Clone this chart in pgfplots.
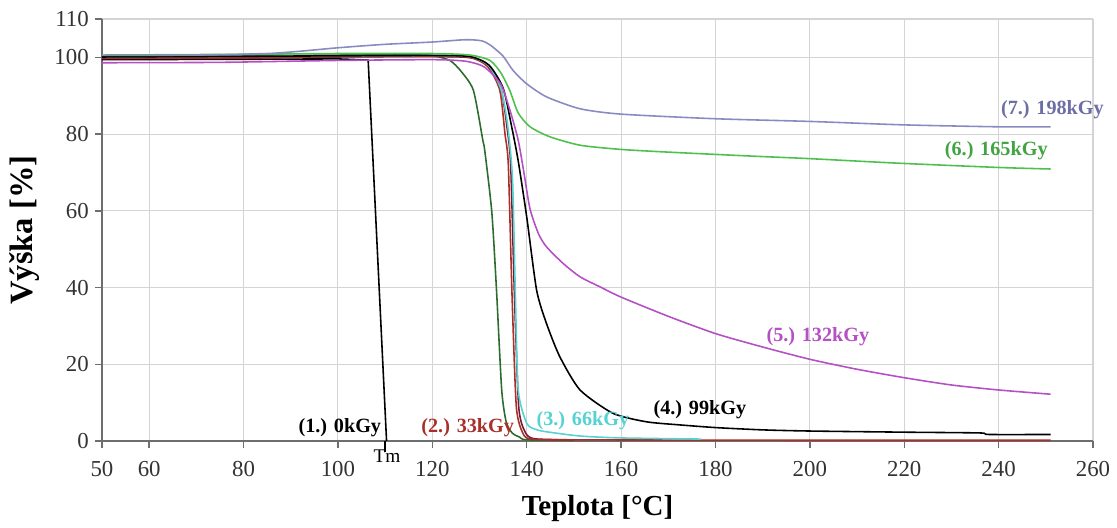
\documentclass[border=0pt]{standalone}
\usepackage{fontspec}
\setmainfont{Liberation Serif}
\usepackage{pgfplots}
\pgfplotsset{compat=1.18}
\usetikzlibrary{calc}
\definecolor{gridgray}{HTML}{D4D4D4}
\definecolor{axisgray}{HTML}{6E6E6E}
\definecolor{redc}{HTML}{A8302A}
\definecolor{cyanc}{HTML}{55D2D2}
\definecolor{magc}{HTML}{B450C4}
\definecolor{greenc}{HTML}{4EC04E}
\definecolor{lavc}{HTML}{8A8AC2}
\definecolor{lavtxt}{HTML}{6E6EA6}
\definecolor{dkgreen}{HTML}{2E6B2E}
\definecolor{maroon}{HTML}{7A1A30}
\begin{document}
\begin{tikzpicture}
\begin{axis}[name=ax, scale only axis, width=19.82cm, height=8.44cm,
  xmin=50, xmax=260, ymin=0, ymax=110, clip=true, clip mode=individual,
  axis lines*=left, axis line style={draw=axisgray, line width=1pt},
  xtick={50,60,80,100,120,140,160,180,200,220,240,260},
  ytick={0,20,40,60,80,100,110},
  grid=major, major grid style={draw=gridgray, line width=0.6pt},
  tick align=outside, major tick length=4pt,
  tick style={draw=axisgray, line width=0.8pt},
  tick label style={font=\fontsize{13}{15}\selectfont, text=black!80},
  xticklabel style={yshift=-4pt},
  /pgf/number format/assume math mode=true,
  extra x ticks={110}, extra x tick labels={},
  extra x tick style={grid=none, major tick length=6pt, tick style={draw=black}},
  xlabel={\textbf{Teplota [°C]}}, ylabel={\textbf{Výška [\%]}},
  x label style={font=\fontsize{16.5}{19}\selectfont, at={(axis description cs:0.5,-0.1754)}, anchor=base},
  y label style={font=\fontsize{18.5}{21}\selectfont, at={(axis description cs:-0.0777,0.5)}, anchor=center},
  every axis plot/.append style={line width=0.9pt, mark=none},
]
% (1.) 0 kGy
\addplot[black] coordinates {(50,99.4) (80,99.5) (100,99.6) (106.4,99.3) (110.3,0)};
% unlabeled dark green
\addplot[dkgreen, smooth, tension=0.4] coordinates {(50,100.3) (80,100.4) (100,100.6) (115,100.8) (120,100.5)
  (123.7,99.2) (126,96.5) (128.7,91.4) (130.7,78.4) (131.1,75.8) (132.6,59.7) (133.6,39.3)
  (134.7,13.3) (135.7,4.7) (137,2) (138.5,1) (140,0.3) (150,0.2)};
% unlabeled maroon
\addplot[maroon, smooth, tension=0.4] coordinates {(50,99.7) (80,99.8) (100,100.1) (120,100.2) (128,99.9)
  (132,97.8) (134.6,91.5) (135.8,82) (136.6,72) (137.4,38) (138.3,9) (139.6,2.5) (141.5,0.6) (150,0.3)};
% (2.) 33 kGy
\addplot[redc, smooth, tension=0.4] coordinates {(50,99.8) (80,99.9) (100,100.2) (120,100.3) (128,100)
  (131.8,97.5) (134.3,91.4) (135.4,80) (136.1,72) (136.9,37.6) (137.8,8.9) (139.2,2)
  (141,0.5) (150,0.3) (200,0.2) (251,0.2)};
% (3.) 66 kGy
\addplot[cyanc, smooth, tension=0.4] coordinates {(50,100.2) (100,100.4) (120,100.5) (128,100.2) (132,97.8)
  (134.6,91.5) (136,82) (137,68) (137.6,38) (138.2,13.3) (140,4.6) (142,3) (144.2,2.4)
  (151.3,1.3) (160,0.8) (177,0.5)};
% (4.) 99 kGy
\addplot[black, smooth, tension=0.4] coordinates {(50,100.1) (100,100.4) (120,100.5) (128,100.2) (132,98)
  (135,92) (136.8,82) (138.2,73) (140,58.4) (142.1,39.3) (144.2,30.6) (147,22)
  (151.3,13.3) (158.3,7.2) (165.4,5) (172.4,4.2) (180,3.5) (190,2.9) (200,2.6)
  (220,2.3) (236,2.1) (238,1.7) (251,1.7)};
% (5.) 132 kGy
\addplot[magc, smooth, tension=0.4] coordinates {(50,98.6) (75,98.7) (100,99.2) (120,99.4) (127,99) (131,97.5)
  (134.5,93) (136.5,86) (138.2,78.4) (139.4,70) (140.7,60.5) (142.5,54) (144.2,50.6)
  (147.7,46.3) (151.3,42.8) (155.5,40.2) (160,37.5) (170,32.5) (180,28) (190,24.5)
  (200,21.3) (210,18.7) (220,16.5) (230,14.6) (240,13.3) (251,12.2)};
% (6.) 165 kGy
\addplot[greenc, smooth, tension=0.4] coordinates {(50,100.6) (80,100.8) (100,101) (120,101) (128,100.6)
  (132.2,99.2) (134.5,96) (136.4,91.4) (138.2,85.5) (140.7,81.9) (144.9,79.3) (151.3,77.1)
  (160,76) (170,75.3) (187,74.3) (200,73.6) (219,72.4) (240,71.3) (251,70.9)};
% (7.) 198 kGy
\addplot[lavc, smooth, tension=0.4] coordinates {(50,100.5) (70,100.6) (85,101) (92,101.6) (100,102.5)
  (110,103.4) (120,104) (127,104.6) (130.5,104.3) (132.5,103) (135,100.3) (137.1,96.6)
  (140,93.1) (144.2,89.7) (151.3,86.6) (160,85.2) (180,84) (200,83.3) (220,82.4)
  (240,81.9) (251,81.9)};

\begin{scope}[every node/.style={font=\fontsize{11.5}{13}\selectfont\bfseries}]
\node[black] at (axis cs:100.4,3.4) {(1.) 0kGy};
\node[redc] at (axis cs:127.5,3.4) {(2.) 33kGy};
\node[cyanc] at (axis cs:151.9,5.2) {(3.) 66kGy};
\node[black] at (axis cs:176.7,8.1) {(4.) 99kGy};
\node[magc] at (axis cs:201.7,27.1) {(5.) 132kGy};
\node[greenc!85!black] at (axis cs:239.5,75.6) {(6.) 165kGy};
\node[lavtxt] at (axis cs:251.4,86.4) {(7.) 198kGy};
\end{scope}
\node[anchor=north, font=\fontsize{11}{13}\selectfont, inner sep=1pt] at (axis cs:110.4,-1.8) {Tm};
\end{axis}
\path ($(ax.south west)+(-2.04cm,-1.7cm)$) rectangle ($(ax.north east)+(0.48cm,0.38cm)$);
\end{tikzpicture}
\end{document}
